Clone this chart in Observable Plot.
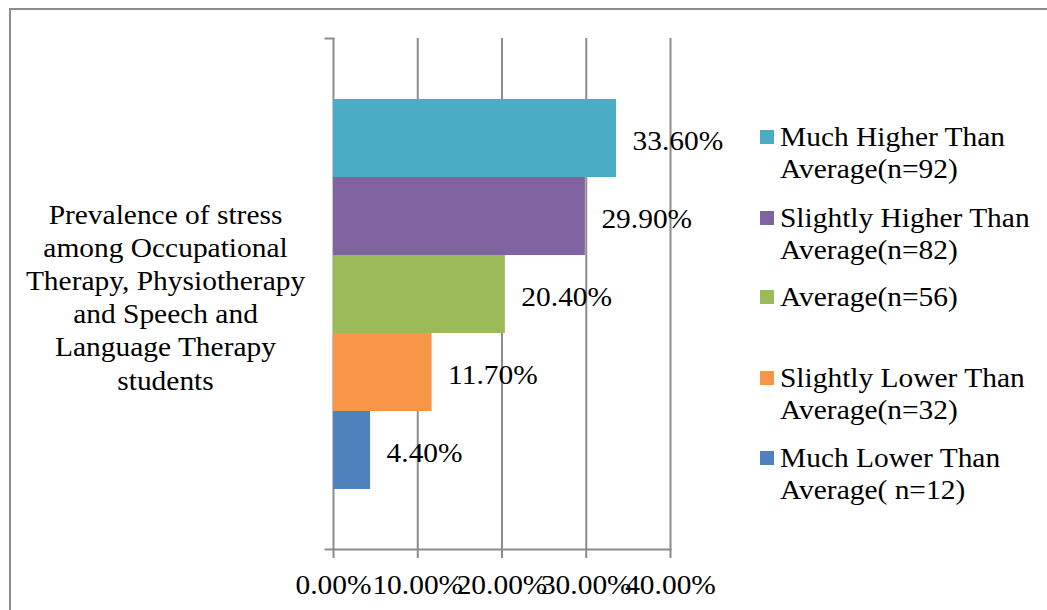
<!DOCTYPE html>
<html>
<head>
<meta charset="utf-8">
<script src="https://cdn.jsdelivr.net/npm/d3@7"></script>
<script src="https://cdn.jsdelivr.net/npm/@observablehq/plot@0.6"></script>
<style>
  html, body { margin: 0; padding: 0; background: #fff; }
  #chart {
    position: relative; width: 1047px; height: 610px; overflow: hidden;
    font-family: "Liberation Serif", "Times New Roman", serif; color: #000;
  }
  #border {
    position: absolute; left: 9px; top: 8px; width: 2000px; height: 2000px;
    border: 2px solid #8c8c8c;
  }
  #plot { position: absolute; left: 0; top: 0; }
  .legend-item {
    position: absolute; left: 760px; font-size: 27px; line-height: 32px;
    padding-left: 20px; white-space: pre;
  }
  .legend-item .swatch {
    position: absolute; left: 0; top: 9px; width: 14px; height: 14px;
  }
  .legend-item .label {
    display: inline-block; transform: scaleX(1.09); transform-origin: left center;
  }
</style>
</head>
<body>
<div id="chart">
  <div id="border"></div>
  <div id="plot"></div>
  <div id="legend"></div>
</div>
<script>
// Single category shown on the vertical axis
const category = "Prevalence of stress\namong Occupational\nTherapy, Physiotherapy\nand Speech and\nLanguage Therapy\nstudents";

// Stress levels, top to bottom
const levels = [
  "Much Higher Than Average(n=92)",
  "Slightly Higher Than Average(n=82)",
  "Average(n=56)",
  "Slightly Lower Than Average(n=32)",
  "Much Lower Than Average( n=12)"
];
// Legend wording as wrapped in the key
const legendLabels = [
  "Much Higher Than\nAverage(n=92)",
  "Slightly Higher Than\nAverage(n=82)",
  "Average(n=56)",
  "Slightly Lower Than\nAverage(n=32)",
  "Much Lower Than\nAverage( n=12)"
];
// Percentage of students per level
const shares = [33.6, 29.9, 20.4, 11.7, 4.4];
const colors = ["#4BACC6", "#8064A2", "#9BBB59", "#F79646", "#4F81BD"];
const xTicks = [0, 10, 20, 30, 40];

const pct = d => d.toFixed(2) + "%";
const data = levels.map((level, i) => ({level, share: shares[i]}));
const font = "Liberation Serif, Times New Roman, serif";
const gray = "#8c8c8c";
const widen = 1.09; // horizontal stretch of the lettering

const plot = Plot.plot({
  width: 1047,
  height: 610,
  marginLeft: 333,
  marginRight: 377,
  marginTop: 38,
  marginBottom: 61,
  style: {fontFamily: font, fontSize: "27px", color: "#000", background: "transparent"},
  x: {domain: [0, 40], ticks: xTicks},
  y: {domain: levels, padding: 0, insetTop: 59, insetBottom: 58, axis: null},
  color: {domain: levels, range: colors},
  marks: [
    // vertical gridlines, including the value axis origin
    Plot.ruleX(xTicks, {stroke: gray, strokeWidth: 2}),
    // horizontal category axis line and its top tick
    Plot.frame({anchor: "bottom", stroke: gray, strokeWidth: 2, insetLeft: -8}),
    Plot.frame({anchor: "top", stroke: gray, strokeWidth: 2, insetLeft: -8, insetRight: 337}),
    Plot.barX(data, {x: "share", y: "level", fill: "level"}),
    Plot.text(data, {
      x: "share", y: "level", text: d => pct(d.share),
      textAnchor: "start", dx: 16, dy: 3, fontSize: 27, fontFamily: font, fill: "#000"
    }),
    Plot.text([category], {
      frameAnchor: "left", text: d => d, textAnchor: "middle",
      dx: -168, dy: 2, lineHeight: 1.23, fontSize: 27, fontFamily: font, fill: "#000"
    }),
    Plot.axisX({
      ticks: xTicks, tickFormat: pct, tickSize: 9, tickPadding: 16,
      stroke: gray, strokeWidth: 2, fill: "#000", fontSize: 27, fontFamily: font, label: null
    })
  ]
});
document.getElementById("plot").appendChild(plot);

// Stretch every SVG label horizontally (anchor positions are preserved)
plot.querySelectorAll("text").forEach(t => {
  const spans = t.querySelectorAll("tspan");
  const parts = spans.length ? Array.from(spans) : [t];
  parts.forEach(p => {
    const w = p.getComputedTextLength();
    if (w > 0) {
      p.setAttribute("textLength", (w * widen).toFixed(2));
      p.setAttribute("lengthAdjust", "spacingAndGlyphs");
    }
  });
});

// Legend entries, each aligned on its first line
const legendTops = [121, 202, 281, 362, 442];
const legend = document.getElementById("legend");
legendLabels.forEach((label, i) => {
  const item = document.createElement("div");
  item.className = "legend-item";
  item.style.top = legendTops[i] + "px";
  const sw = document.createElement("span");
  sw.className = "swatch";
  sw.style.background = colors[i];
  const txt = document.createElement("span");
  txt.className = "label";
  txt.textContent = label;
  item.appendChild(sw);
  item.appendChild(txt);
  legend.appendChild(item);
});
</script>
</body>
</html>
